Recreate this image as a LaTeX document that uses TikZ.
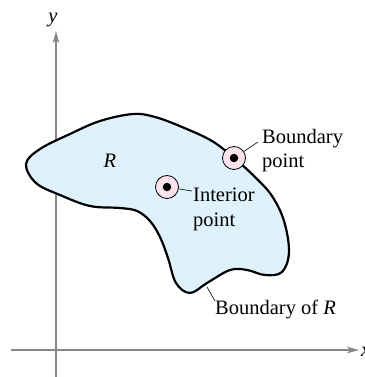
\documentclass[tikz,border=0pt]{standalone}
\usepackage{fontspec}
\setmainfont{Liberation Serif}
\usetikzlibrary{arrows.meta}
\definecolor{axisgray}{RGB}{135,135,135}
\definecolor{regionblue}{RGB}{223,242,251}
\definecolor{ptpink}{RGB}{252,226,236}
\begin{document}
\begin{tikzpicture}[x=1pt,y=-1pt,
  axis/.style={draw=axisgray,line width=1.2pt,-{Stealth[length=12pt,width=6.5pt,inset=3pt]}},
  region/.style={draw=black,line width=2.2pt,fill=regionblue},
  ring/.style={circle,draw=black,line width=0.8pt,fill=ptpink,minimum size=23pt,inner sep=0pt},
  dot/.style={circle,fill=black,minimum size=8.5pt,inner sep=0pt},
  lbl/.style={font=\fontsize{20.5}{25}\selectfont,inner sep=0pt,anchor=base west},
  leader/.style={draw=black,line width=0.6pt}]
\useasboundingbox (0,0) rectangle (364,377);
% axes
\coordinate (xs) at (11,350);
\coordinate (xe) at (359,350);
\coordinate (ys) at (56,380);
\coordinate (ye) at (56,31);
\draw[axis] (xs) -- (xe);
\draw[axis] (ys) -- (ye);
\node[lbl,anchor=base,font=\fontsize{20.5}{25}\selectfont\itshape] (ylab) at (53,23) {y};
\node[lbl,font=\fontsize{20.5}{25}\selectfont\itshape] (xlab) at (361,356) {x};
% region
\draw[region] plot[smooth cycle,tension=0.6] coordinates {
 (26,164) (40,149) (70,134) (100,121) (133,114) (155,117) (182,127)
 (212,141) (234,158) (255,177) (272,196) (284,221) (289,252) (282,272)
 (265,275) (247,270) (230,270) (207,283) (190,293) (176,283) (168,258)
 (160,237) (150,221) (137,211) (120,208) (90,206) (60,195) (36,183)};
\node[lbl,anchor=base,font=\fontsize{20.5}{25}\selectfont\itshape] (rlab) at (110,167) {R};
% points
\node[ring] (bp) at (234,158) {};
\node[dot] (bpd) at (234,158) {};
\node[ring] (ip) at (167,187) {};
\node[dot] (ipd) at (167,187) {};
% labels
\node[lbl] (bpt1) at (262,143) {Boundary};
\node[lbl] (bpt2) at (262,167) {point};
\node[lbl] (ipt1) at (193,201) {Interior};
\node[lbl] (ipt2) at (193,226) {point};
\node[lbl] (brt) at (215,314) {Boundary of \textit{R}};
% leaders
\coordinate (bpl) at (258,142);
\coordinate (ipl) at (192,191);
\coordinate (brs) at (207,287);
\coordinate (brl) at (215,301);
\draw[leader] (bp) -- (bpl);
\draw[leader] (ip) -- (ipl);
\draw[leader] (brs) -- (brl);
\end{tikzpicture}
\end{document}
